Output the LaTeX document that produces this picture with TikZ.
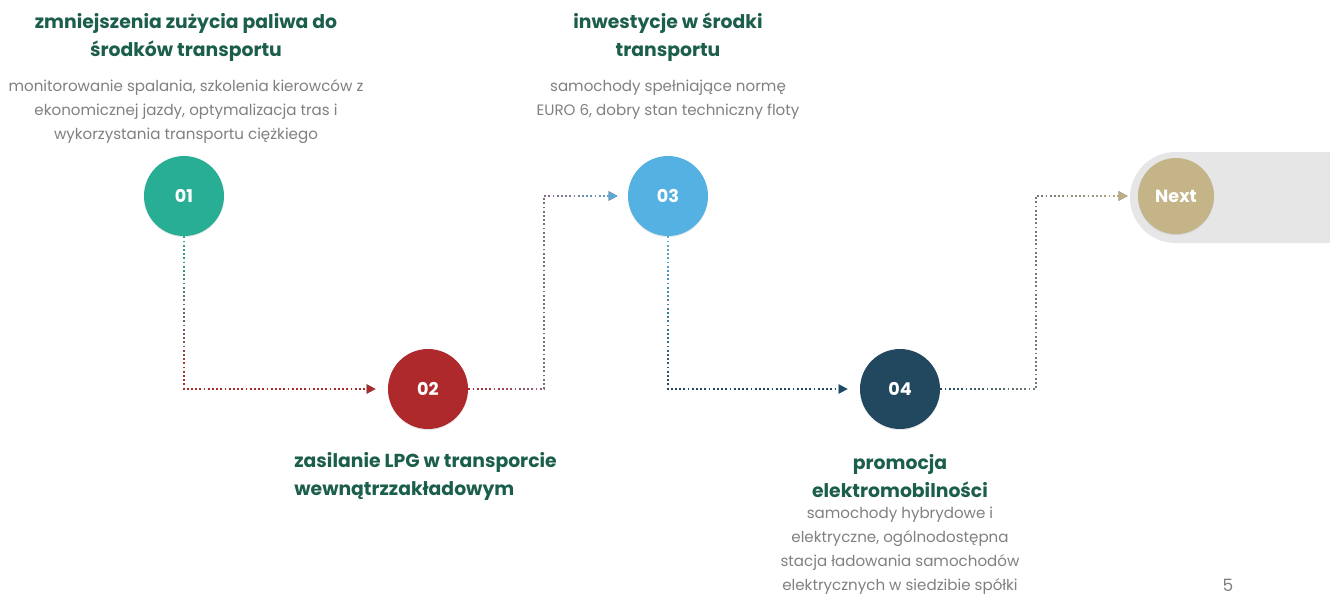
\documentclass[tikz,border=0pt]{standalone}
\usepackage{fontspec}
\setmainfont{Poppins}
\usepackage{tikz}
\usetikzlibrary{arrows.meta,shadows,fadings}
\definecolor{stepgreen}{HTML}{28AE94}
\definecolor{stepred}{HTML}{AD292C}
\definecolor{stepblue}{HTML}{56B1E3}
\definecolor{stepnavy}{HTML}{22485F}
\definecolor{steptan}{HTML}{C4B487}
\definecolor{headgreen}{HTML}{1C5E4C}
\definecolor{bodygray}{HTML}{808080}
\definecolor{bargray}{HTML}{E6E6E6}
\tikzfading[name=fadedown, top color=transparent!100, bottom color=transparent!0]
\tikzfading[name=faderight, left color=transparent!100, right color=transparent!0]

\begin{document}
\begin{tikzpicture}[x=0.5pt,y=-0.5pt,
  stepdot/.style={circle,minimum size=40pt,inner sep=0pt,text=white,
    font=\bfseries\fontsize{8.8}{10}\selectfont,
    drop shadow={shadow xshift=0pt,shadow yshift=-0.6pt,opacity=0.18}},
  headline/.style={text=headgreen,font=\bfseries\fontsize{9.4}{14}\selectfont,align=center,inner sep=0pt},
  bodytext/.style={text=bodygray,font=\fontsize{7.55}{12}\selectfont,align=center,inner sep=0pt},
  link/.style={line width=0.9pt,dash pattern=on 0.9pt off 1.2pt,
    -{Triangle[length=4.5pt,width=4.5pt]},shorten >=6pt}]
\useasboundingbox (0,0) rectangle (1330,595);
\fill[bargray,rounded corners=22.75pt] (1130,152) rectangle (1400,243);

\node[stepdot,fill=stepgreen] (s1) at (184,196) {01};
\node[stepdot,fill=stepred] (s2) at (428,389) {02};
\node[stepdot,fill=stepblue] (s3) at (668,196) {03};
\node[stepdot,fill=stepnavy] (s4) at (900,389) {04};
\node[stepdot,fill=steptan,minimum size=38pt] (nx) at (1176,196) {Next};

\coordinate (k2) at (544,389);
\coordinate (k4) at (1036,389);

\draw[link,stepgreen] (s1.south) |- (s2.west);
\draw[link,stepred,path fading=fadedown] (s1.south) |- (s2.west);
\draw[link,stepred,shorten >=5pt] (s2.east) -- (k2) |- (s3.west);
\draw[link,stepblue,shorten >=5pt,path fading=faderight] (s2.east) -- (k2) |- (s3.west);
\draw[link,stepblue] (s3.south) |- (s4.west);
\draw[link,stepnavy,path fading=fadedown] (s3.south) |- (s4.west);
\draw[link,stepnavy,shorten >=5pt] (s4.east) -- (k4) |- (nx.west);
\draw[link,steptan,shorten >=5pt,path fading=faderight] (s4.east) -- (k4) |- (nx.west);

\node[headline] (h1) at (186,37) {zmniejszenia zużycia paliwa do\\środków transportu};
\node[bodytext] (b1) at (186,112) {monitorowanie spalania, szkolenia kierowców z\\ekonomicznej jazdy, optymalizacja tras i\\wykorzystania transportu ciężkiego};
\node[headline] (h3) at (668,37) {inwestycje w środki\\transportu};
\node[bodytext] (b3) at (668,100) {samochody spełniające normę\\EURO 6, dobry stan techniczny floty};
\node[headline,align=left,anchor=west] (h2) at (294,476) {zasilanie LPG w transporcie\\wewnątrzzakładowym};
\node[headline] (h4) at (900,476) {promocja\\elektromobilności};
\node[bodytext] (b4) at (900,551) {samochody hybrydowe i\\elektryczne, ogólnodostępna\\stacja ładowania samochodów\\elektrycznych w siedzibie spółki};
\node[text=bodygray,font=\fontsize{8.5}{8.5}\selectfont] (pg) at (1228,585) {5};
\end{tikzpicture}
\end{document}
